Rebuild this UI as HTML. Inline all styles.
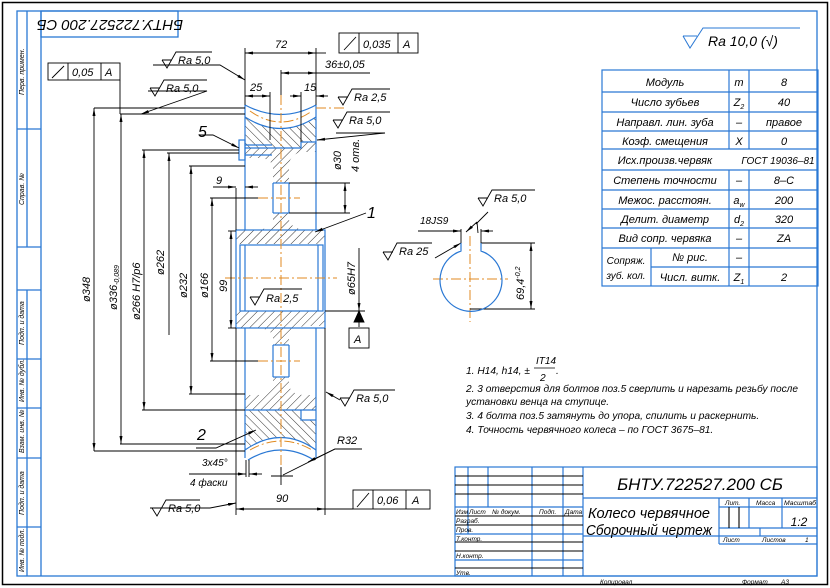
<!DOCTYPE html>
<html><head><meta charset="utf-8"><style>
html,body{margin:0;padding:0;background:#fff;}
svg{display:block;}
text{font-family:"Liberation Sans","DejaVu Sans",sans-serif;font-style:italic;fill:#000;}
</style></head><body>
<svg width="830" height="588" viewBox="0 0 830 588" xmlns="http://www.w3.org/2000/svg">
<defs>
<pattern id="hA" width="6" height="6" patternUnits="userSpaceOnUse" patternTransform="rotate(45)"><line x1="0" y1="0" x2="0" y2="6" stroke="#000" stroke-width="0.8"/></pattern>
<pattern id="hB" width="6" height="6" patternUnits="userSpaceOnUse" patternTransform="rotate(-45)"><line x1="0" y1="0" x2="0" y2="6" stroke="#000" stroke-width="0.8"/></pattern>
<marker id="ar" markerWidth="8" markerHeight="6" refX="8" refY="3" orient="auto-start-reverse" markerUnits="userSpaceOnUse"><path d="M0,1.5 L8,3 L0,4.5Z" fill="#000"/></marker>
</defs>
<rect x="2.5" y="2.5" width="825" height="582" fill="none" stroke="#000" stroke-width="1.5"/>
<g stroke="#2a78d4" stroke-width="1.3" fill="none">
<rect x="17" y="11" width="800" height="565"/>
<line x1="41" y1="11" x2="41" y2="576"/>
<line x1="27" y1="11" x2="27" y2="247"/><line x1="17" y1="129" x2="41" y2="129"/><line x1="17" y1="247" x2="41" y2="247"/>
<line x1="27" y1="290" x2="27" y2="576"/><line x1="17" y1="290" x2="41" y2="290"/><line x1="17" y1="359" x2="41" y2="359"/><line x1="17" y1="408" x2="41" y2="408"/><line x1="17" y1="458" x2="41" y2="458"/><line x1="17" y1="527" x2="41" y2="527"/>
<rect x="41" y="11" width="137" height="26"/>
</g>
<g font-size="7">
<text transform="translate(24,95) rotate(-90)">Перв. примен.</text>
<text transform="translate(24,205) rotate(-90)">Справ. №</text>
<text transform="translate(24,345) rotate(-90)">Подп. и дата</text>
<text transform="translate(24,402) rotate(-90)">Инв. № дубл.</text>
<text transform="translate(24,453) rotate(-90)">Взам. инв. №</text>
<text transform="translate(24,515) rotate(-90)">Подп. и дата</text>
<text transform="translate(24,572) rotate(-90)">Инв. № подл.</text>
</g>
<text transform="translate(110,24) rotate(180)" font-size="15" text-anchor="middle" dominant-baseline="middle">БНТУ.722527.200 СБ</text>

<path d="M683,36 L690,48 L703,28 L800,28 M683,36 L697,36" fill="none" stroke="#2a78d4" stroke-width="1"/>
<text x="708" y="46" font-size="14">Ra 10,0 (√)</text>

<g stroke="none">
<path d="M245,117 Q281,140 316,117 L316,142 L301,142 L301,148 L245,148Z" fill="url(#hB)"/>
<path d="M245,148 L301,148 L301,142 L316,142 L316,152 L300,152 Q289,156 289,166 L289,183 L273,183 L273,166 Q270,158 258,158 L245,158Z" fill="url(#hA)"/>
<path d="M273,213 L289,213 L289,220 Q292,230 310,230 L325,230 L325,244 L236,244 L236,230 L255,230 Q270,230 273,220Z" fill="url(#hA)"/>
<path d="M236,311 L325,311 L325,326 L310,326 Q292,326 289,336 L289,345 L273,345 L273,336 Q270,328 255,328 L236,328Z" fill="url(#hA)"/>
<path d="M273,377 L289,377 L289,386 Q292,395 305,395 L316,395 L316,410 L245,410 L245,395 L258,395 Q270,395 273,386Z" fill="url(#hA)"/>
<path d="M245,410 L301,410 L301,420 L316,420 L316,450 Q281,425 245,450Z" fill="url(#hB)"/>
</g>
<g stroke="#2a78d4" stroke-width="1.2" fill="none">
<path d="M245,105 Q281,124 316,105"/>
<path d="M245,117 Q281,140 316,117"/>
<line x1="245" y1="105" x2="245" y2="230"/><line x1="316" y1="105" x2="316" y2="230"/>
<line x1="273" y1="183" x2="273" y2="213"/><line x1="289" y1="183" x2="289" y2="213"/>
<line x1="273" y1="183" x2="289" y2="183"/><line x1="273" y1="213" x2="289" y2="213"/>
<path d="M301,142 L316,142 M301,142 L301,148 L245,148"/>
<rect x="239" y="140" width="6" height="20"/><line x1="245" y1="145" x2="272" y2="145"/><line x1="245" y1="155" x2="272" y2="155"/>
<rect x="236" y="230" width="89" height="98"/>
<rect x="240" y="245" width="83" height="66"/><line x1="245" y1="245" x2="245" y2="311"/><line x1="318" y1="245" x2="318" y2="311"/>
<line x1="245" y1="328" x2="245" y2="458"/><line x1="316" y1="328" x2="316" y2="458"/>
<line x1="273" y1="345" x2="273" y2="377"/><line x1="289" y1="345" x2="289" y2="377"/>
<line x1="273" y1="345" x2="289" y2="345"/><line x1="273" y1="377" x2="289" y2="377"/>
<path d="M301,410 L301,420 L316,420"/><line x1="245" y1="410" x2="316" y2="410"/>
<path d="M245,450 Q281,425 316,450"/>
<path d="M248,460 Q281,440 314,460"/>
</g>
<g stroke="#e08a20" stroke-width="1" fill="none" stroke-dasharray="10,3,2,3">
<line x1="281" y1="95" x2="281" y2="470"/>
<line x1="225" y1="278" x2="337" y2="278"/>
<line x1="258" y1="198" x2="300" y2="198"/><line x1="258" y1="361" x2="300" y2="361"/>
<path d="M250,111 Q281,133 312,111"/><path d="M250,450 Q281,432 312,450"/>
<line x1="316" y1="108" x2="345" y2="108"/>
<line x1="470" y1="236" x2="470" y2="322"/><line x1="433" y1="279" x2="508" y2="279"/>
</g>

<g stroke="#000" stroke-width="0.9" fill="none">
<line x1="94" y1="108" x2="245" y2="108"/><line x1="120" y1="114" x2="245" y2="114"/>
<line x1="142" y1="150" x2="239" y2="150"/><line x1="167" y1="153" x2="239" y2="153"/>
<line x1="189" y1="166" x2="245" y2="166"/><line x1="210" y1="198" x2="258" y2="198"/>
<line x1="228" y1="231" x2="236" y2="231"/>
<line x1="94" y1="451" x2="245" y2="451"/><line x1="120" y1="444" x2="245" y2="444"/>
<line x1="142" y1="410" x2="245" y2="410"/><line x1="189" y1="394" x2="245" y2="394"/>
<line x1="210" y1="361" x2="258" y2="361"/><line x1="228" y1="328" x2="236" y2="328"/>
<line x1="94" y1="108" x2="94" y2="451" marker-start="url(#ar)" marker-end="url(#ar)"/>
<line x1="121" y1="114" x2="121" y2="444" marker-start="url(#ar)" marker-end="url(#ar)"/>
<line x1="144" y1="150" x2="144" y2="410" marker-start="url(#ar)" marker-end="url(#ar)"/>
<line x1="169" y1="153" x2="169" y2="335" marker-start="url(#ar)"/>
<line x1="191" y1="166" x2="191" y2="394" marker-start="url(#ar)" marker-end="url(#ar)"/>
<line x1="212" y1="198" x2="212" y2="361" marker-start="url(#ar)" marker-end="url(#ar)"/>
<line x1="231" y1="231" x2="231" y2="328" marker-start="url(#ar)" marker-end="url(#ar)"/>
<line x1="245" y1="48" x2="245" y2="105"/><line x1="316" y1="48" x2="316" y2="105"/>
<line x1="245" y1="53" x2="316" y2="53" marker-start="url(#ar)" marker-end="url(#ar)"/><line x1="316" y1="53" x2="326" y2="53"/>
<line x1="281" y1="70" x2="281" y2="95"/>
<line x1="281" y1="73" x2="316" y2="73" marker-start="url(#ar)" marker-end="url(#ar)"/><line x1="316" y1="73" x2="370" y2="73"/>
<line x1="270" y1="92" x2="270" y2="140"/><line x1="301" y1="92" x2="301" y2="142"/>
<line x1="245" y1="96" x2="270" y2="96" marker-start="url(#ar)" marker-end="url(#ar)"/>
<line x1="290" y1="96" x2="301" y2="96" marker-end="url(#ar)"/><line x1="316" y1="96" x2="328" y2="96" marker-start="url(#ar)"/>
<line x1="236" y1="188" x2="236" y2="230"/>
<line x1="213" y1="187" x2="236" y2="187" marker-end="url(#ar)"/><line x1="245" y1="187" x2="258" y2="187" marker-start="url(#ar)"/>
<line x1="289" y1="183" x2="350" y2="183"/><line x1="289" y1="213" x2="350" y2="213"/>
<line x1="345" y1="183" x2="345" y2="213" marker-start="url(#ar)" marker-end="url(#ar)"/>
<line x1="325" y1="311" x2="365" y2="311"/><line x1="359" y1="248" x2="359" y2="311" marker-end="url(#ar)"/>
<line x1="359" y1="311" x2="359" y2="327"/>
<line x1="236" y1="328" x2="236" y2="515"/><line x1="325" y1="328" x2="325" y2="515"/>
<line x1="236" y1="509" x2="325" y2="509" marker-start="url(#ar)" marker-end="url(#ar)"/><line x1="325" y1="509" x2="353" y2="509"/>
<line x1="246" y1="460" x2="246" y2="477"/><line x1="249" y1="460" x2="249" y2="477"/>
<line x1="189" y1="474" x2="236" y2="474"/><line x1="236" y1="474" x2="246" y2="474" marker-end="url(#ar)"/><line x1="249" y1="474" x2="262" y2="474" marker-start="url(#ar)"/>
<line x1="271" y1="476" x2="293" y2="476"/><line x1="281" y1="467" x2="281" y2="485"/>
<path d="M283,475 L335,449 L362,449"/>
<line x1="335" y1="449" x2="308" y2="462" marker-end="url(#ar)"/>
<path d="M153,65 L220,65 L245,80" marker-end="url(#ar)"/>
<path d="M148,91 L207,91 L141,114" marker-end="url(#ar)"/>
<path d="M336,133 L385,133 L317,140" marker-end="url(#ar)"/>
<path d="M366,213 L315,232" marker-end="url(#ar)"/>
<path d="M340,400 L326,392" marker-end="url(#ar)"/>
<path d="M150,508 L210,508 L236,503" marker-end="url(#ar)"/>
<path d="M196,448 L216,448 L256,430" marker-end="url(#ar)"/>
<path d="M200,135 L213,135 L239,148" marker-end="url(#ar)"/>
<line x1="120" y1="80" x2="120" y2="114"/>
</g>
<g stroke="#000" stroke-width="0.9" fill="none">
<path d="M162,60 L167,68 L176,52 L212,52 M162,60 L172,60"/>
<path d="M150,88 L155,96 L164,80 L207,80 M150,88 L160,88"/>
<path d="M338,97 L343,105 L352,89 L390,89 M338,97 L348,97"/>
<path d="M333,120 L338,128 L347,112 L390,112 M333,120 L343,120"/>
<path d="M478,198 L483,206 L492,190 L535,190 M478,198 L488,198"/>
<path d="M383,252 L388,260 L397,243 L432,243 M383,252 L393,252"/>
<path d="M250,297 L255,305 L264,289 L302,289 M250,297 L260,297"/>
<path d="M340,398 L345,406 L354,390 L395,390 M340,398 L350,398"/>
<path d="M152,508 L157,516 L166,500 L200,500 M152,508 L162,508"/>
</g>
<g font-size="11">
<text x="178" y="64">Ra 5,0</text>
<text x="166" y="92">Ra 5,0</text>
<text x="354" y="101">Ra 2,5</text>
<text x="349" y="124">Ra 5,0</text>
<text x="494" y="202">Ra 5,0</text>
<text x="399" y="255">Ra 25</text>
<text x="266" y="302">Ra 2,5</text>
<text x="356" y="402">Ra 5,0</text>
<text x="168" y="512">Ra 5,0</text>
</g>
<g stroke="#000" stroke-width="0.9" fill="#fff">
<rect x="48" y="63" width="72" height="17"/><line x1="68" y1="63" x2="68" y2="80"/><line x1="101" y1="63" x2="101" y2="80"/>
<rect x="339" y="33" width="79" height="20"/><line x1="359" y1="33" x2="359" y2="53"/><line x1="398" y1="33" x2="398" y2="53"/>
<rect x="353" y="490" width="77" height="19"/><line x1="373" y1="490" x2="373" y2="509"/><line x1="406" y1="490" x2="406" y2="509"/>
<rect x="349" y="328" width="20" height="20"/>
<path d="M52,78 L64,66 M344,50 L356,37 M357,507 L369,493" fill="none"/>
<path d="M359,311 L354,322 L364,322Z" fill="#000"/>
</g>
<g font-size="11">
<text x="72" y="76">0,05</text><text x="105" y="76">A</text>
<text x="363" y="48">0,035</text><text x="403" y="48">A</text>
<text x="377" y="504">0,06</text><text x="412" y="504">A</text>
<text x="354" y="343">A</text>
<text x="275" y="48">72</text>
<text x="325" y="68">36±0,05</text>
<text x="250" y="91">25</text><text x="304" y="91">15</text>
<text x="216" y="184">9</text>
<text x="202" y="466" font-size="10">3x45°</text>
<text x="190" y="486" font-size="10">4 фаски</text>
<text x="276" y="502">90</text>
<text x="337" y="444">R32</text>
<text x="198" y="137" font-size="16">5</text>
<text x="367" y="218" font-size="16">1</text>
<text x="197" y="440" font-size="16">2</text>
</g>
<g font-size="11">
<text transform="translate(90,302) rotate(-90)">ø348</text>
<text transform="translate(117,310) rotate(-90)">ø336<tspan font-size="7" dy="2">-0,089</tspan></text>
<text transform="translate(140,320) rotate(-90)">ø266 H7/p6</text>
<text transform="translate(164,275) rotate(-90)">ø262</text>
<text transform="translate(187,298) rotate(-90)">ø232</text>
<text transform="translate(208,298) rotate(-90)">ø166</text>
<text transform="translate(227,292) rotate(-90)">99</text>
<text transform="translate(341,170) rotate(-90)">ø30</text>
<text transform="translate(359,172) rotate(-90)">4 отв.</text>
<text transform="translate(355,295) rotate(-90)">ø65H7</text>
<text transform="translate(524,300) rotate(-90)">69,4<tspan font-size="7" dy="-4">-0,2</tspan></text>
</g>
<g stroke="#000" stroke-width="0.9" fill="none">
<path d="M461,243 L461,229 M481,243 L481,229"/>
<line x1="418" y1="231" x2="461" y2="231"/><line x1="453" y1="231" x2="461" y2="231" marker-end="url(#ar)"/><line x1="481" y1="231" x2="493" y2="231" marker-start="url(#ar)"/>
<path d="M476,224 L488,212"/>
<line x1="477" y1="222" x2="466" y2="232" marker-end="url(#ar)"/><line x1="477" y1="222" x2="478" y2="233"/>
<line x1="481" y1="243" x2="535" y2="243"/><line x1="470" y1="309" x2="535" y2="309"/>
<line x1="531" y1="243" x2="531" y2="309" marker-start="url(#ar)" marker-end="url(#ar)"/>
<path d="M435,258 L461,243" marker-end="url(#ar)"/>
</g>
<text x="420" y="224" font-size="10">18JS9</text>
<path d="M461,243 L461,251 A31,31 0 1 0 481,251 L481,243" fill="none" stroke="#2a78d4" stroke-width="1.2"/>

<g stroke="#2a78d4" stroke-width="1.2" fill="none">
<rect x="602" y="70" width="216" height="216"/>
<line x1="729" y1="70" x2="729" y2="149"/><line x1="749" y1="70" x2="749" y2="149"/>
<line x1="729" y1="170" x2="729" y2="286"/><line x1="749" y1="170" x2="749" y2="286"/>
<line x1="651" y1="248" x2="651" y2="286"/>
<line x1="602" y1="92" x2="818" y2="92"/><line x1="602" y1="112" x2="818" y2="112"/><line x1="602" y1="131" x2="818" y2="131"/><line x1="602" y1="149" x2="818" y2="149"/><line x1="602" y1="170" x2="818" y2="170"/><line x1="602" y1="190" x2="818" y2="190"/><line x1="602" y1="209" x2="818" y2="209"/><line x1="602" y1="228" x2="818" y2="228"/><line x1="602" y1="248" x2="818" y2="248"/><line x1="651" y1="267" x2="818" y2="267"/>
</g>
<g font-size="11" text-anchor="middle">
<text x="665" y="86">Модуль</text><text x="739" y="86">m</text><text x="784" y="86">8</text>
<text x="665" y="106">Число зубьев</text><text x="739" y="106">Z<tspan font-size="7" dy="3">2</tspan></text><text x="784" y="106">40</text>
<text x="665" y="126">Направл. лин. зуба</text><text x="739" y="126">–</text><text x="784" y="126">правое</text>
<text x="665" y="145">Коэф. смещения</text><text x="739" y="145">X</text><text x="784" y="145">0</text>
<text x="665" y="164">Исх.произв.червяк</text><text x="778" y="164" font-size="10">ГОСТ 19036–81</text>
<text x="665" y="184">Степень точности</text><text x="739" y="184">–</text><text x="784" y="184">8–С</text>
<text x="665" y="204">Межос. расстоян.</text><text x="739" y="204">a<tspan font-size="7" dy="3">w</tspan></text><text x="784" y="204">200</text>
<text x="665" y="223">Делит. диаметр</text><text x="739" y="223">d<tspan font-size="7" dy="3">2</tspan></text><text x="784" y="223">320</text>
<text x="665" y="242">Вид сопр. червяка</text><text x="739" y="242">–</text><text x="784" y="242">ZA</text>
<text x="626" y="264" font-size="10">Сопряж.</text><text x="626" y="279" font-size="10">зуб. кол.</text>
<text x="690" y="261">№ рис.</text><text x="739" y="261">–</text>
<text x="690" y="281">Числ. витк.</text><text x="739" y="281">Z<tspan font-size="7" dy="3">1</tspan></text><text x="784" y="281">2</text>
</g>

<g font-size="10.2">
<text x="466" y="374">1. H14, h14, ±</text>
<text x="536" y="364" font-size="10">IT14</text><line x1="534" y1="368" x2="555" y2="368" stroke="#000" stroke-width="0.8"/><text x="540" y="381">2</text><text x="556" y="374">.</text>
<text x="466" y="392" textLength="332" lengthAdjust="spacingAndGlyphs">2. 3 отверстия для болтов поз.5 сверлить и нарезать резьбу после</text>
<text x="466" y="405">установки венца на ступице.</text>
<text x="466" y="419">3. 4 болта поз.5 затянуть до упора, спилить и раскернить.</text>
<text x="466" y="433">4. Точность червячного колеса – по ГОСТ 3675–81.</text>
</g>

<g stroke="#2a78d4" stroke-width="1.2" fill="none">
<rect x="455" y="467" width="362" height="109"/>
<line x1="583" y1="467" x2="583" y2="576"/>
<line x1="468" y1="467" x2="468" y2="534"/><line x1="488" y1="467" x2="488" y2="507"/><line x1="532" y1="467" x2="532" y2="576"/><line x1="563" y1="467" x2="563" y2="576"/>
<line x1="583" y1="498" x2="817" y2="498"/><line x1="583" y1="536" x2="817" y2="536"/>
<line x1="719" y1="498" x2="719" y2="544"/><line x1="749" y1="498" x2="749" y2="528"/><line x1="782" y1="498" x2="782" y2="528"/>
<line x1="719" y1="507" x2="817" y2="507"/><line x1="719" y1="528" x2="817" y2="528"/><line x1="719" y1="544" x2="817" y2="544"/>
<line x1="760" y1="528" x2="760" y2="536"/>
<line x1="455" y1="507" x2="583" y2="507"/><line x1="455" y1="534" x2="583" y2="534"/><line x1="455" y1="560" x2="583" y2="560"/>
</g>
<g stroke="#000" stroke-width="1.1" fill="none">
<line x1="455" y1="476" x2="583" y2="476"/><line x1="455" y1="485" x2="583" y2="485"/><line x1="455" y1="494" x2="583" y2="494"/>
<line x1="455" y1="516" x2="583" y2="516"/><line x1="455" y1="525" x2="583" y2="525"/><line x1="455" y1="542" x2="583" y2="542"/><line x1="455" y1="551" x2="583" y2="551"/><line x1="455" y1="568" x2="583" y2="568"/>
<line x1="729" y1="507" x2="729" y2="528"/><line x1="739" y1="507" x2="739" y2="528"/>
</g>
<g font-size="6.5">
<text x="456" y="514">Изм</text><text x="469" y="514">Лист</text><text x="492" y="514">№ докум.</text><text x="539" y="514">Подп.</text><text x="565" y="514">Дата</text>
<text x="456" y="523">Разраб.</text><text x="456" y="532">Пров.</text><text x="456" y="541">Т.контр.</text><text x="456" y="558">Н.контр.</text><text x="456" y="575">Утв.</text>
<text x="725" y="505">Лит.</text><text x="756" y="505">Масса</text><text x="784" y="505" textLength="32" lengthAdjust="spacingAndGlyphs">Масштаб</text>
<text x="723" y="542">Лист</text><text x="762" y="542">Листов</text><text x="805" y="542">1</text>
<text x="600" y="584">Копировал</text><text x="742" y="584">Формат</text><text x="781" y="584">А3</text>
</g>
<text x="700" y="490" font-size="17" text-anchor="middle">БНТУ.722527.200 СБ</text>
<text x="588" y="518" font-size="15" textLength="122" lengthAdjust="spacingAndGlyphs">Колесо червячное</text>
<text x="586" y="535" font-size="15" textLength="126" lengthAdjust="spacingAndGlyphs">Сборочный чертеж</text>
<text x="799" y="526" font-size="12" text-anchor="middle">1:2</text>
</svg>
</body></html>
